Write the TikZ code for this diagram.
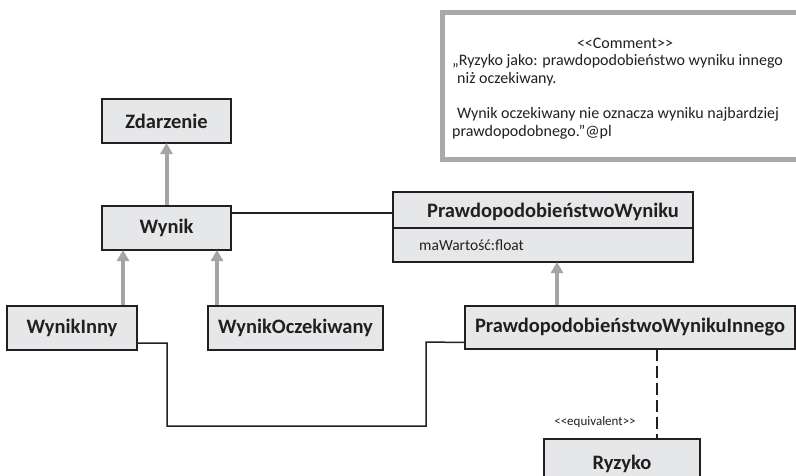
\documentclass[tikz,border=0pt]{standalone}
\usepackage{fontspec}
\setmainfont{Carlito}
\usetikzlibrary{arrows.meta}
\definecolor{boxfill}{HTML}{E6E7E8}
\definecolor{boxline}{HTML}{231F20}
\definecolor{genline}{HTML}{A3A5A8}
\definecolor{notegray}{HTML}{A7A9AC}
\tikzset{
  cls/.style={draw=boxline, fill=boxfill, line width=2pt, inner sep=0pt, outer sep=0pt,
    font=\fontsize{20.5}{23}\selectfont\bfseries, text=boxline},
  gen/.style={draw=genline, line width=4pt,
    -{Triangle[length=11pt,width=12pt,fill=genline]}, shorten <=1pt},
  assoc/.style={draw=boxline, line width=1.5pt},
  equiv/.style={draw=boxline, line width=2.5pt, dash pattern=on 12pt off 5pt},
  notetext/.style={inner sep=0pt, anchor=base west, font=\fontsize{16}{18}\selectfont, text=boxline},
}
\begin{document}
\begin{tikzpicture}[x=1pt, y=-1pt]
\useasboundingbox (0,0) rectangle (796,475);
\clip (0,0) rectangle (796,475);

% comment note
\draw[notegray, line width=5pt, fill=white] (442.5,12.5) rectangle (830,159.5);
\node[inner sep=0pt, anchor=base, font=\fontsize{16}{18}\selectfont, text=boxline] (cstereo) at (625,48) {<{}<Comment>{}>};
\node[notetext] (cl1) at (452,65) {„Ryzyko jako: prawdopodobieństwo wyniku innego};
\node[notetext] (cl2) at (457,83) {niż oczekiwany.};
\node[notetext] (cl3) at (457,118) {Wynik oczekiwany nie oznacza wyniku najbardziej};
\node[notetext] (cl4) at (452,136) {prawdopodobnego.”@pl};

% classes
\node[cls, minimum width=129pt, minimum height=44pt] (zd) at (166.5,121) {Zdarzenie};
\node[cls, minimum width=129pt, minimum height=44pt] (wy) at (166.5,228) {Wynik};
\node[cls, minimum width=130pt, minimum height=44pt] (wi) at (72,328) {WynikInny};
\node[cls, minimum width=175pt, minimum height=44pt] (wo) at (295.5,328) {WynikOczekiwany};
\node[cls, minimum width=330pt, minimum height=43pt] (pwi) at (630,327.5) {PrawdopodobieństwoWynikuInnego};
\node[cls, minimum width=156pt, minimum height=50pt] (ry) at (622,464) {Ryzyko};

% class with an attribute compartment
\node[cls, minimum width=300pt, minimum height=70pt] (pw) at (543,227) {};
\draw[boxline, line width=2pt] (pw.west |- 0,228) -- (pw.east |- 0,228);
\node[inner sep=0pt, font=\fontsize{20.5}{23}\selectfont\bfseries, text=boxline] (pwname) at (553,212) {PrawdopodobieństwoWyniku};
\node[inner sep=0pt, anchor=west, font=\fontsize{15.5}{18}\selectfont, text=boxline] (pwattr) at (419,245) {maWartość:float};

% generalisations
\draw[gen] (wy.north) -- (zd.south);
\draw[gen] (wi.north -| 123,0) -- (wy.south -| 123,0);
\draw[gen] (wo.north -| 217,0) -- (wy.south -| 217,0);
\draw[gen] (pwi.north -| 557,0) -- (pw.south -| 557,0);

% associations
\coordinate (a1) at ([yshift=15pt]wy.east);
\draw[assoc] (a1) -- (pw.west |- a1);
\coordinate (b1) at ([yshift=-15pt]wi.east);
\coordinate (b2) at ([yshift=-15pt]pwi.west);
\draw[assoc] (b1) -- (167,343) -- (167,426) -- (426,426) -- (426,342) -- (b2);

% equivalence
\draw[equiv] (pwi.south -| 657,0) -- (ry.north -| 657,0);
\node[inner sep=0pt, font=\fontsize{13}{15}\selectfont, text=boxline] (eqlabel) at (595,422) {<{}<equivalent>{}>};
\end{tikzpicture}
\end{document}
